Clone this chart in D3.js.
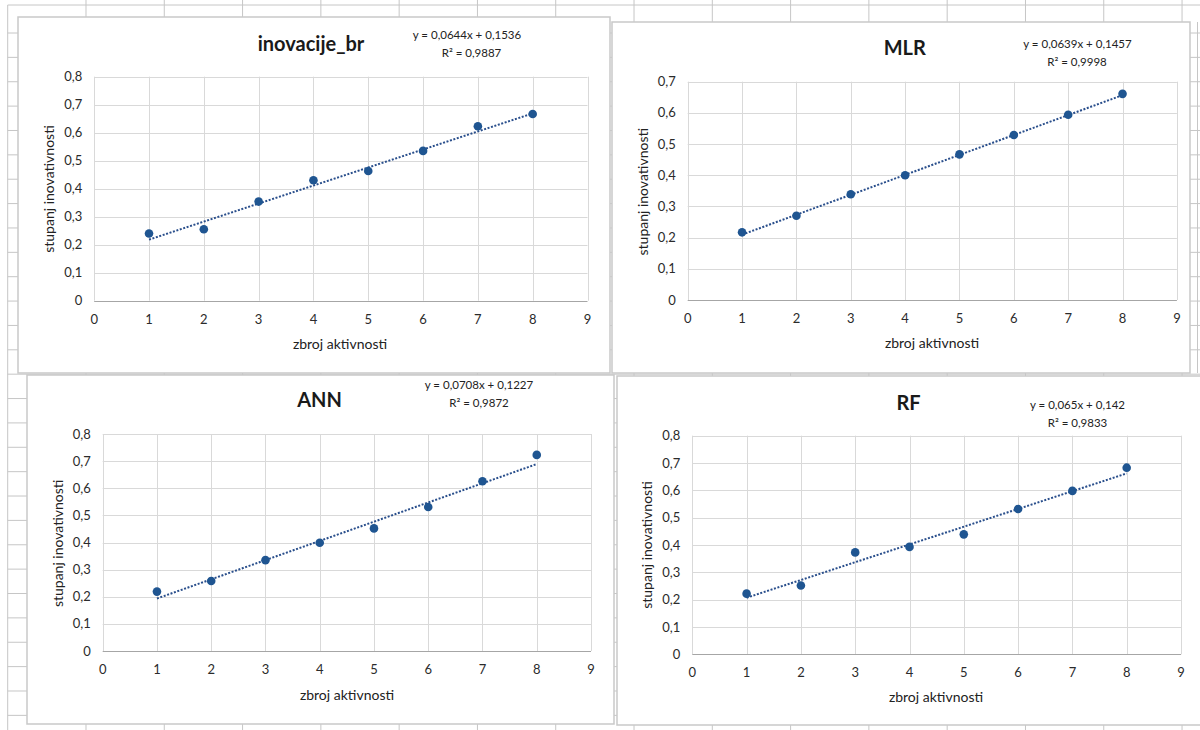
<!DOCTYPE html>
<html>
<head>
<meta charset="utf-8">
<script src="https://cdn.jsdelivr.net/npm/d3@7"></script>
<style>
  html, body { margin: 0; padding: 0; background: #ffffff; }
  svg { display: block; }
  text { font-family: Lato, "Open Sans", sans-serif; }
</style>
</head>
<body>
<svg id="chart" width="1200" height="730"></svg>
<script>
// ---------------- DATA ----------------
const xValues = [1, 2, 3, 4, 5, 6, 7, 8];
const titles = ["inovacije_br", "MLR", "ANN", "RF"];
const seriesInovacije = [0.240, 0.255, 0.354, 0.430, 0.463, 0.535, 0.623, 0.667];
const seriesMLR       = [0.217, 0.270, 0.339, 0.400, 0.467, 0.529, 0.594, 0.661];
const seriesANN       = [0.219, 0.258, 0.335, 0.399, 0.452, 0.531, 0.626, 0.723];
const seriesRF        = [0.222, 0.252, 0.373, 0.393, 0.439, 0.532, 0.598, 0.683];
const slopes     = [0.0644, 0.0639, 0.0708, 0.065];
const intercepts = [0.1536, 0.1457, 0.1227, 0.142];
const equations  = ["y = 0,0644x + 0,1536", "y = 0,0639x + 0,1457", "y = 0,0708x + 0,1227", "y = 0,065x + 0,142"];
const r2Labels   = ["R² = 0,9887", "R² = 0,9998", "R² = 0,9872", "R² = 0,9833"];
const xTicks = [0, 1, 2, 3, 4, 5, 6, 7, 8, 9];
const xTickLabels = ["0", "1", "2", "3", "4", "5", "6", "7", "8", "9"];
const yTicks8 = [0, 0.1, 0.2, 0.3, 0.4, 0.5, 0.6, 0.7, 0.8];
const yTickLabels8 = ["0", "0,1", "0,2", "0,3", "0,4", "0,5", "0,6", "0,7", "0,8"];
const yTicks7 = [0, 0.1, 0.2, 0.3, 0.4, 0.5, 0.6, 0.7];
const yTickLabels7 = ["0", "0,1", "0,2", "0,3", "0,4", "0,5", "0,6", "0,7"];
const xAxisTitle = "zbroj aktivnosti";
const yAxisTitle = "stupanj inovativnosti";

// ---------------- LAYOUT ----------------
const panels = [
  { values: seriesInovacije, yMax: 0.8, yTicks: yTicks8, yLabels: yTickLabels8,
    box: [18, 17, 610, 373], plot: [94.2, 76.7, 587.5, 300.7],
    title: [311, 44], eq: [467, 35], r2: [471.5, 53], xt: [340, 344], yt: [48.6, 189] },
  { values: seriesMLR, yMax: 0.7, yTicks: yTicks7, yLabels: yTickLabels7,
    box: [612, 22, 1190, 373], plot: [687.7, 81.7, 1176.9, 300],
    title: [904.8, 48.3], eq: [1077.5, 44], r2: [1077, 61.7], xt: [932, 343.3], yt: [643, 191.7] },
  { values: seriesANN, yMax: 0.8, yTicks: yTicks8, yLabels: yTickLabels8,
    box: [27, 375, 614, 724], plot: [102.7, 434, 591, 651],
    title: [319.6, 400], eq: [479, 385], r2: [479, 402.7], xt: [347, 695], yt: [58, 543.3] },
  { values: seriesRF, yMax: 0.8, yTicks: yTicks8, yLabels: yTickLabels8,
    box: [617, 376, 1204, 725], plot: [692.3, 435.7, 1181, 654.3],
    title: [908.6, 403.3], eq: [1077.5, 405], r2: [1077.5, 422.7], xt: [936, 696.7], yt: [647.5, 545] }
];

const svg = d3.select("#chart");

// ---------------- spreadsheet background grid ----------------
const bg = svg.append("g");
const colW = 78.29, rowH = 24.37;
for (let k = 0; k <= 15; k++) {
  const x = 7.7 + colW * k;
  bg.append("line").attr("x1", x).attr("x2", x).attr("y1", k === 0 ? 5 : 0).attr("y2", 730)
    .attr("stroke", "#c6c6c6").attr("stroke-width", 1);
}
bg.append("line").attr("x1", 1197.5).attr("x2", 1197.5).attr("y1", 22).attr("y2", 373)
  .attr("stroke", "#c6c6c6").attr("stroke-width", 1);
bg.append("line").attr("x1", 7.7).attr("x2", 1200).attr("y1", 5).attr("y2", 5)
  .attr("stroke", "#c6c6c6").attr("stroke-width", 1);
for (let k = 0; k < 30; k++) {
  const y = 33 + rowH * k;
  bg.append("line").attr("x1", 7.7).attr("x2", 1200).attr("y1", y).attr("y2", y)
    .attr("stroke", "#c6c6c6").attr("stroke-width", 1);
}

// ---------------- panels ----------------
panels.forEach((p, i) => {
  const g = svg.append("g");
  const [bx0, by0, bx1, by1] = p.box;
  g.append("rect").attr("x", bx0).attr("y", by0).attr("width", bx1 - bx0).attr("height", by1 - by0)
    .attr("fill", "#ffffff").attr("stroke", "#c9c9c9").attr("stroke-width", 1.5);

  const [px0, py0, px1, py1] = p.plot;
  const x = d3.scaleLinear().domain([0, 9]).range([px0, px1]);
  const y = d3.scaleLinear().domain([0, p.yMax]).range([py1, py0]);

  // gridlines
  g.append("g").selectAll("line.h").data(p.yTicks.filter(v => v > 0)).join("line")
    .attr("x1", px0).attr("x2", px1)
    .attr("y1", d => Math.round(y(d)) + 0.5).attr("y2", d => Math.round(y(d)) + 0.5)
    .attr("stroke", "#d9d9d9").attr("stroke-width", 1);
  g.append("g").selectAll("line.v").data(xTicks).join("line")
    .attr("x1", d => Math.round(x(d)) + 0.5).attr("x2", d => Math.round(x(d)) + 0.5)
    .attr("y1", py0).attr("y2", py1)
    .attr("stroke", "#d9d9d9").attr("stroke-width", 1);

  // x axis line
  g.append("line").attr("x1", px0).attr("x2", px1)
    .attr("y1", Math.round(y(0)) + 0.5).attr("y2", Math.round(y(0)) + 0.5)
    .attr("stroke", "#a6a6a6").attr("stroke-width", 1);

  // y tick labels
  g.append("g").selectAll("text").data(p.yTicks).join("text")
    .attr("x", px0 - 12).attr("y", d => y(d)).attr("dy", "0.35em")
    .attr("text-anchor", "end").attr("font-size", 13).attr("fill", "#2b2b2b")
    .text((d, j) => p.yLabels[j]);

  // x tick labels
  g.append("g").selectAll("text").data(xTicks).join("text")
    .attr("x", d => x(d)).attr("y", py1 + 18.5).attr("dy", "0.35em")
    .attr("text-anchor", "middle").attr("font-size", 13).attr("fill", "#2b2b2b")
    .text((d, j) => xTickLabels[j]);

  // trendline
  const tl = [1, 8].map(v => [v, slopes[i] * v + intercepts[i]]);
  g.append("line")
    .attr("x1", x(tl[0][0])).attr("y1", y(tl[0][1]))
    .attr("x2", x(tl[1][0])).attr("y2", y(tl[1][1]))
    .attr("stroke", "#2a4f8c").attr("stroke-width", 2).attr("stroke-dasharray", "2,1.6");

  // points
  g.append("g").selectAll("circle").data(xValues).join("circle")
    .attr("cx", (d) => x(d)).attr("cy", (d, j) => y(p.values[j])).attr("r", 4.3)
    .attr("fill", "#1f5591");

  // titles
  g.append("text").attr("x", p.title[0]).attr("y", p.title[1]).attr("dy", "0.35em")
    .attr("text-anchor", "middle").attr("font-size", 20).attr("font-weight", "bold")
    .attr("fill", "#1a1a1a").text(titles[i]);
  g.append("text").attr("x", p.eq[0]).attr("y", p.eq[1]).attr("dy", "0.35em")
    .attr("text-anchor", "middle").attr("font-size", 11.5).attr("fill", "#222").text(equations[i]);
  g.append("text").attr("x", p.r2[0]).attr("y", p.r2[1]).attr("dy", "0.35em")
    .attr("text-anchor", "middle").attr("font-size", 11.5).attr("fill", "#222").text(r2Labels[i]);
  g.append("text").attr("x", p.xt[0]).attr("y", p.xt[1]).attr("dy", "0.35em")
    .attr("text-anchor", "middle").attr("font-size", 14).attr("fill", "#222").text(xAxisTitle);
  g.append("text").attr("transform", `translate(${p.yt[0]},${p.yt[1]}) rotate(-90)`).attr("dy", "0.35em")
    .attr("text-anchor", "middle").attr("font-size", 14).attr("fill", "#222").text(yAxisTitle);
});
</script>
</body>
</html>
